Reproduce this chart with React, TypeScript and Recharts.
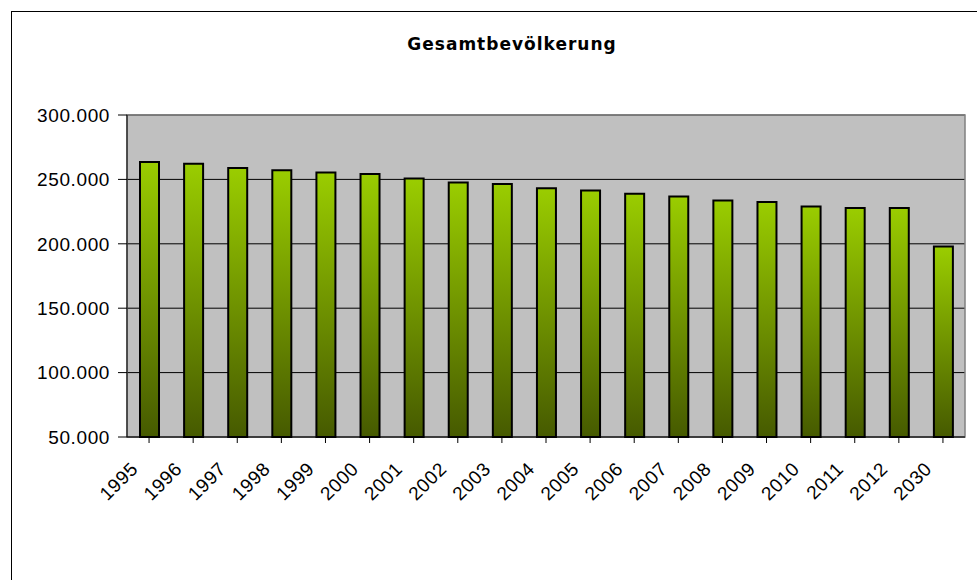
import React from 'react';
import { BarChart, Bar, XAxis, YAxis, CartesianGrid, ReferenceArea } from 'recharts';

// Werte
const years = ['1995', '1996', '1997', '1998', '1999', '2000', '2001', '2002', '2003', '2004', '2005', '2006', '2007', '2008', '2009', '2010', '2011', '2012', '2030'];
const population = [263500, 262200, 258800, 257200, 255400, 254100, 250700, 247600, 246400, 243200, 241400, 238800, 236800, 233700, 232400, 229000, 227700, 227700, 197900];
const yTicks = [50000, 100000, 150000, 200000, 250000, 300000];

const chartData = years.map((year, i) => ({ year, value: population[i] }));

const FONT = '"Liberation Sans", Arial, sans-serif';

const formatThousands = (v: number) => String(v).replace(/\B(?=(\d{3})+(?!\d))/g, '.');

const XTick = ({ x, y, payload }: any) => (
  <g transform={`translate(${x - 10},${y + 25})`}>
    <text textAnchor="end" transform="rotate(-45)" fill="#000" fontSize={19} fontFamily={FONT} letterSpacing={0.6}>
      {payload.value}
    </text>
  </g>
);

export default function App() {
  return (
    <div style={{ position: 'fixed', left: 0, top: 0, width: 977, height: 580, overflow: 'hidden', background: '#fff' }}>
      {/* Rahmen um das Diagramm */}
      <div style={{ position: 'absolute', left: 11, top: 11, width: 1000, height: 1000, border: '1px solid #000' }} />
      <div
        style={{
          position: 'absolute',
          left: 312,
          top: 34,
          width: 400,
          textAlign: 'center',
          fontFamily: '"DejaVu Sans", Verdana, sans-serif',
          fontWeight: 'bold',
          fontSize: 17,
          letterSpacing: 1,
          color: '#000',
        }}
      >
        Gesamtbevölkerung
      </div>
      <div style={{ position: 'absolute', left: 0, top: 0 }}>
        <BarChart
          width={977}
          height={580}
          data={chartData}
          margin={{ top: 115, right: 12, left: 17, bottom: 83 }}
          barSize={19}
        >
          <defs>
            <linearGradient id="barGradient" x1="0" y1="0" x2="0" y2="1">
              <stop offset="0%" stopColor="#9acd00" />
              <stop offset="100%" stopColor="#465a00" />
            </linearGradient>
          </defs>
          <CartesianGrid vertical={false} fill="#c0c0c0" stroke="#000" strokeOpacity={1} />
          <ReferenceArea y1={50000} y2={300000} fill="none" stroke="#808080" strokeWidth={1.5} />
          <XAxis
            dataKey="year"
            interval={0}
            height={60}
            tickSize={6}
            axisLine={{ stroke: '#000' }}
            tickLine={{ stroke: '#000' }}
            tick={<XTick />}
          />
          <YAxis
            domain={[50000, 300000]}
            ticks={yTicks}
            width={110}
            tickSize={9}
            tickMargin={8}
            axisLine={{ stroke: '#000' }}
            tickLine={{ stroke: '#000' }}
            tickFormatter={formatThousands}
            tick={{ fill: '#000', fontSize: 19, fontFamily: FONT, letterSpacing: 0.6 }}
          />
          <Bar dataKey="value" fill="url(#barGradient)" stroke="#000" strokeWidth={2} isAnimationActive={false} />
        </BarChart>
      </div>
    </div>
  );
}
